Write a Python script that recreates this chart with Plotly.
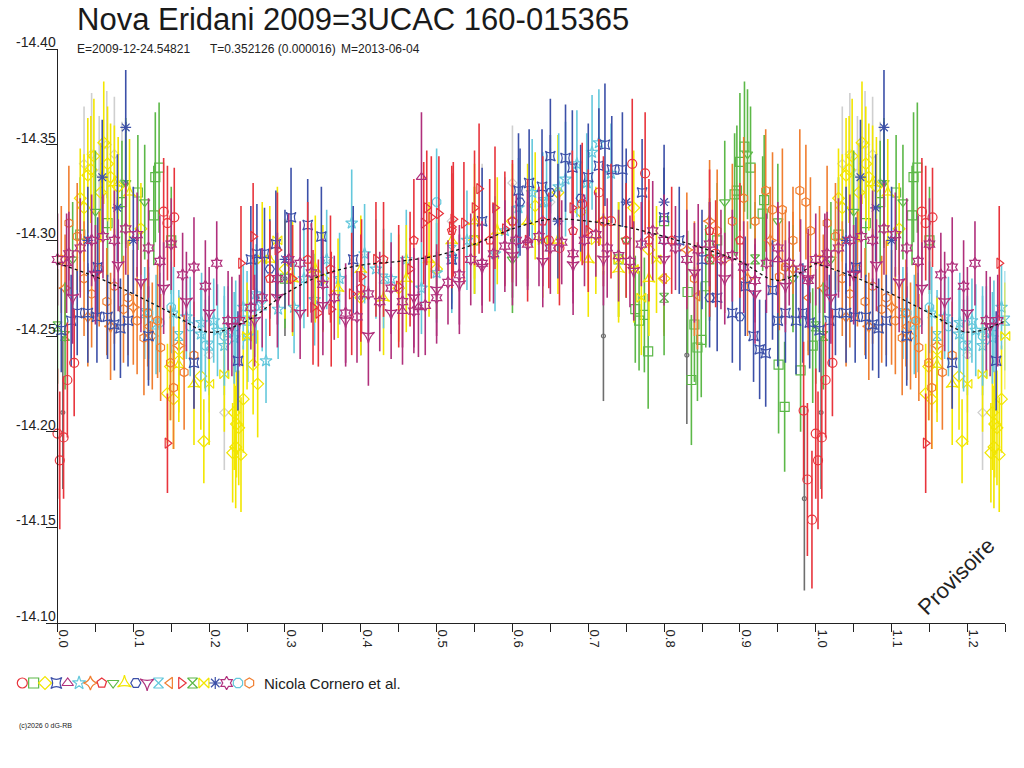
import plotly.graph_objects as go

W, H = 1024, 768
FONT = "Liberation Sans, Arial, sans-serif"

# ---------------- data (phase, magnitude, error) ----------------
s01_phase = [0.000, 0.003, 0.008, 0.013, 0.022, 0.140, 0.145, 0.154, 0.648, 0.662,
             0.692, 0.714, 0.730, 0.758, 0.775, 0.860, 0.868, 0.984, 0.989, 0.995]
s01_mag = [-14.199, -14.185, -14.197, -14.227, -14.236, -14.315, -14.309, -14.312, -14.300, -14.296,
           -14.319, -14.325, -14.310, -14.340, -14.335, -14.290, -14.293, -14.211, -14.175, -14.154]
s01_err = [0.034, 0.036, 0.032, 0.030, 0.028, 0.028, 0.030, 0.026, 0.025, 0.030,
           0.032, 0.028, 0.030, 0.034, 0.032, 0.030, 0.028, 0.036, 0.040, 0.036]

s02_phase = [0.030, 0.066, 0.085, 0.106, 0.127, 0.129, 0.134, 0.150, 0.300, 0.550,
             0.740, 0.762, 0.767, 0.774, 0.779, 0.800, 0.831, 0.836, 0.840, 0.844,
             0.849, 0.855, 0.870, 0.893, 0.896, 0.900, 0.906, 0.914, 0.930, 0.932,
             0.951, 0.959, 0.980, 0.996]
s02_mag = [-14.303, -14.309, -14.320, -14.325, -14.313, -14.333, -14.338, -14.300, -14.280, -14.300,
           -14.290, -14.264, -14.258, -14.261, -14.242, -14.310, -14.273, -14.227, -14.256, -14.244,
           -14.248, -14.276, -14.300, -14.324, -14.326, -14.341, -14.349, -14.338, -14.314, -14.321,
           -14.235, -14.213, -14.232, -14.245]
s02_err = [0.030, 0.028, 0.032, 0.030, 0.026, 0.034, 0.034, 0.028, 0.026, 0.028,
           0.030, 0.028, 0.026, 0.030, 0.030, 0.028, 0.032, 0.034, 0.030, 0.028,
           0.030, 0.032, 0.030, 0.032, 0.034, 0.036, 0.034, 0.032, 0.030, 0.034,
           0.036, 0.034, 0.032, 0.030]

s03_phase = [0.030, 0.035, 0.040, 0.044, 0.048, 0.057, 0.061, 0.066, 0.070, 0.080,
             0.110, 0.145, 0.149, 0.153, 0.189, 0.193, 0.231, 0.233, 0.235, 0.236,
             0.239, 0.242, 0.245, 0.258, 0.264, 0.300, 0.350, 0.400, 0.450, 0.500,
             0.550, 0.600, 0.630, 0.660, 0.690, 0.720, 0.760, 0.780, 0.800]
s03_mag = [-14.322, -14.317, -14.334, -14.337, -14.344, -14.325, -14.351, -14.340, -14.333, -14.328,
           -14.306, -14.220, -14.234, -14.217, -14.229, -14.195, -14.189, -14.210, -14.192, -14.204,
           -14.202, -14.188, -14.217, -14.235, -14.225, -14.285, -14.280, -14.270, -14.275, -14.285,
           -14.300, -14.310, -14.318, -14.325, -14.315, -14.310, -14.317, -14.295, -14.280]
s03_err = [0.026, 0.028, 0.030, 0.028, 0.030, 0.026, 0.032, 0.030, 0.028, 0.026,
           0.024, 0.026, 0.028, 0.026, 0.028, 0.022, 0.026, 0.030, 0.032, 0.028,
           0.030, 0.030, 0.028, 0.026, 0.028, 0.026, 0.028, 0.030, 0.028, 0.026,
           0.028, 0.030, 0.028, 0.030, 0.026, 0.028, 0.030, 0.026, 0.028]

s04_phase = [0.005, 0.018, 0.026, 0.040, 0.052, 0.053, 0.066, 0.075, 0.083, 0.093,
             0.120, 0.180, 0.238, 0.255, 0.263, 0.273, 0.288, 0.308, 0.330, 0.348,
             0.390, 0.520, 0.560, 0.608, 0.622, 0.639, 0.650, 0.670, 0.679, 0.700,
             0.714, 0.722, 0.731, 0.745, 0.771, 0.800, 0.820, 0.850, 0.870, 0.890,
             0.907, 0.918, 0.926, 0.934, 0.943, 0.950, 0.960, 0.974, 0.983, 0.992]
s04_mag = [-14.253, -14.258, -14.262, -14.262, -14.260, -14.286, -14.260, -14.256, -14.254, -14.258,
           -14.250, -14.236, -14.237, -14.290, -14.293, -14.293, -14.298, -14.312, -14.308, -14.302,
           -14.290, -14.290, -14.310, -14.326, -14.330, -14.328, -14.344, -14.343, -14.338, -14.333,
           -14.339, -14.350, -14.337, -14.337, -14.325, -14.312, -14.300, -14.290, -14.270, -14.262,
           -14.276, -14.250, -14.243, -14.241, -14.274, -14.258, -14.262, -14.258, -14.262, -14.257]
s04_err = [0.022, 0.024, 0.022, 0.026, 0.024, 0.026, 0.022, 0.024, 0.026, 0.024,
           0.026, 0.024, 0.026, 0.028, 0.026, 0.024, 0.028, 0.026, 0.024, 0.026,
           0.028, 0.026, 0.028, 0.030, 0.028, 0.030, 0.030, 0.028, 0.030, 0.028,
           0.030, 0.032, 0.028, 0.030, 0.028, 0.026, 0.028, 0.026, 0.028, 0.026,
           0.026, 0.024, 0.026, 0.028, 0.026, 0.024, 0.026, 0.028, 0.026, 0.024]

s05_phase = [0.012, 0.455, 0.476, 0.480, 0.620, 0.950]
s05_mag = [-14.288, -14.263, -14.265, -14.333, -14.300, -14.290]
s05_err = [0.026, 0.028, 0.026, 0.034, 0.026, 0.028]

s06_phase = [0.153, 0.170, 0.189, 0.190, 0.206, 0.211, 0.220, 0.233, 0.245, 0.251,
             0.262, 0.275, 0.291, 0.312, 0.325, 0.339, 0.355, 0.372, 0.388, 0.405,
             0.420, 0.440, 0.460, 0.480, 0.500, 0.520, 0.540, 0.577, 0.590, 0.608,
             0.626, 0.645, 0.661, 0.670, 0.685, 0.698, 0.705, 0.714, 0.730]
s06_mag = [-14.262, -14.260, -14.251, -14.257, -14.258, -14.253, -14.245, -14.249, -14.265, -14.250,
           -14.272, -14.237, -14.264, -14.265, -14.280, -14.269, -14.290, -14.280, -14.309, -14.293,
           -14.285, -14.280, -14.290, -14.275, -14.283, -14.290, -14.300, -14.293, -14.305, -14.317,
           -14.325, -14.320, -14.328, -14.332, -14.340, -14.330, -14.346, -14.351, -14.335]
s06_err = [0.024, 0.022, 0.024, 0.026, 0.022, 0.024, 0.026, 0.024, 0.022, 0.024,
           0.026, 0.022, 0.026, 0.024, 0.026, 0.024, 0.026, 0.024, 0.028, 0.026,
           0.026, 0.024, 0.026, 0.024, 0.026, 0.028, 0.026, 0.030, 0.028, 0.026,
           0.028, 0.026, 0.028, 0.030, 0.028, 0.026, 0.030, 0.028, 0.026]

s07_phase = [0.010, 0.040, 0.070, 0.100, 0.125, 0.160, 0.830, 0.860, 0.880, 0.910, 0.940, 0.970]
s07_mag = [-14.275, -14.260, -14.255, -14.265, -14.250, -14.245, -14.295, -14.310, -14.290, -14.280, -14.300, -14.285]
s07_err = [0.028, 0.026, 0.028, 0.030, 0.028, 0.026, 0.030, 0.032, 0.028, 0.030, 0.028, 0.030]

s08_phase = [0.280, 0.330, 0.360, 0.400, 0.430, 0.470, 0.520, 0.570, 0.600, 0.640,
             0.680, 0.720, 0.750, 0.780, 0.810, 0.860, 0.900]
s08_mag = [-14.280, -14.290, -14.285, -14.275, -14.290, -14.300, -14.305, -14.300, -14.310, -14.310,
           -14.305, -14.310, -14.300, -14.300, -14.300, -14.305, -14.300]
s08_err = [0.030, 0.030, 0.028, 0.028, 0.030, 0.032, 0.030, 0.032, 0.032, 0.034,
           0.032, 0.034, 0.030, 0.032, 0.028, 0.032, 0.030]

s09_phase = [0.020, 0.050, 0.090, 0.115, 0.600, 0.750, 0.880, 0.910, 0.950, 0.970]
s09_mag = [-14.290, -14.315, -14.330, -14.320, -14.290, -14.300, -14.320, -14.345, -14.310, -14.280]
s09_err = [0.030, 0.032, 0.034, 0.030, 0.028, 0.030, 0.032, 0.034, 0.030, 0.028]

s10_phase = [0.075, 0.095, 0.160, 0.180, 0.280, 0.310, 0.340, 0.370, 0.400, 0.430,
             0.460, 0.490, 0.520, 0.550, 0.580, 0.620, 0.660, 0.700, 0.740, 0.780]
s10_mag = [-14.330, -14.325, -14.235, -14.225, -14.290, -14.280, -14.285, -14.275, -14.285, -14.270,
           -14.280, -14.290, -14.300, -14.310, -14.305, -14.310, -14.300, -14.290, -14.285, -14.280]
s10_err = [0.030, 0.028, 0.030, 0.032, 0.028, 0.030, 0.028, 0.026, 0.028, 0.030,
           0.028, 0.030, 0.028, 0.030, 0.028, 0.030, 0.028, 0.030, 0.028, 0.030]

s11_phase = [0.280, 0.610, 0.650, 0.690, 0.860, 0.900]
s11_mag = [-14.285, -14.320, -14.325, -14.322, -14.270, -14.260]
s11_err = [0.026, 0.028, 0.030, 0.028, 0.026, 0.028]

s12_phase = [0.020, 0.050, 0.080, 0.110, 0.140, 0.170, 0.200, 0.230, 0.260, 0.290,
             0.320, 0.350, 0.380, 0.410, 0.440, 0.470, 0.500, 0.530, 0.560, 0.600,
             0.640, 0.680, 0.720, 0.760, 0.800, 0.840, 0.880, 0.920, 0.960, 0.990]
s12_mag = [-14.270, -14.282, -14.287, -14.278, -14.275, -14.268, -14.262, -14.255, -14.258, -14.270,
           -14.262, -14.266, -14.258, -14.250, -14.262, -14.270, -14.274, -14.277, -14.286, -14.292,
           -14.289, -14.287, -14.290, -14.284, -14.290, -14.283, -14.280, -14.272, -14.276, -14.280]
s12_err = [0.024, 0.026, 0.024, 0.026, 0.024, 0.026, 0.024, 0.026, 0.024, 0.026,
           0.024, 0.026, 0.024, 0.026, 0.024, 0.026, 0.024, 0.026, 0.024, 0.026,
           0.024, 0.026, 0.024, 0.026, 0.024, 0.026, 0.024, 0.026, 0.024, 0.026]

s13_phase = [0.115, 0.130, 0.160, 0.200, 0.225, 0.250, 0.270, 0.430, 0.520, 0.640]
s13_mag = [-14.262, -14.256, -14.250, -14.245, -14.252, -14.258, -14.266, -14.280, -14.295, -14.320]
s13_err = [0.024, 0.026, 0.024, 0.026, 0.024, 0.026, 0.024, 0.026, 0.028, 0.026]

s14_phase = [0.120, 0.800, 0.844, 0.990]
s14_mag = [-14.255, -14.280, -14.271, -14.270]
s14_err = [0.028, 0.030, 0.028, 0.030]

s15_phase = [0.145, 0.242, 0.258, 0.290, 0.310, 0.337, 0.344, 0.361, 0.388, 0.401,
             0.420, 0.450, 0.465, 0.483, 0.487, 0.493, 0.503, 0.520, 0.522, 0.536,
             0.550, 0.556, 0.577, 0.590, 0.620, 0.679, 0.700]
s15_mag = [-14.194, -14.288, -14.302, -14.295, -14.280, -14.265, -14.262, -14.264, -14.272, -14.281,
           -14.290, -14.276, -14.285, -14.309, -14.317, -14.312, -14.314, -14.307, -14.311, -14.309,
           -14.317, -14.327, -14.317, -14.306, -14.300, -14.317, -14.305]
s15_err = [0.026, 0.030, 0.028, 0.030, 0.028, 0.030, 0.028, 0.030, 0.032, 0.030,
           0.030, 0.032, 0.030, 0.032, 0.030, 0.032, 0.030, 0.032, 0.030, 0.032,
           0.030, 0.034, 0.032, 0.030, 0.032, 0.030, 0.032]

s16_phase = [0.000, 0.010, 0.800, 0.860, 0.920]
s16_mag = [-14.255, -14.250, -14.270, -14.290, -14.290]
s16_err = [0.030, 0.028, 0.030, 0.032, 0.030]

s17_phase = [0.160, 0.200, 0.220, 0.250, 0.270, 0.290, 0.640, 0.710, 0.740, 0.760, 0.770, 0.790]
s17_mag = [-14.240, -14.225, -14.230, -14.250, -14.290, -14.300, -14.300, -14.300, -14.290, -14.285, -14.270, -14.290]
s17_err = [0.030, 0.032, 0.030, 0.028, 0.030, 0.028, 0.030, 0.028, 0.030, 0.028, 0.030, 0.028]

s18_phase = [0.040, 0.059, 0.079, 0.090, 0.100, 0.300, 0.660, 0.750, 0.800]
s18_mag = [-14.300, -14.333, -14.317, -14.359, -14.300, -14.290, -14.310, -14.320, -14.320]
s18_err = [0.028, 0.030, 0.028, 0.030, 0.028, 0.026, 0.030, 0.028, 0.030]

s19_phase = [0.000, 0.015, 0.030, 0.045, 0.060, 0.075, 0.090, 0.105, 0.120, 0.135,
             0.150, 0.165, 0.180, 0.195, 0.210, 0.225, 0.240, 0.255, 0.270, 0.290,
             0.305, 0.320, 0.335, 0.350, 0.365, 0.380, 0.395, 0.410, 0.425, 0.440,
             0.455, 0.470, 0.485, 0.500, 0.515, 0.530, 0.545, 0.560, 0.575, 0.590,
             0.605, 0.620, 0.635, 0.650, 0.665, 0.680, 0.695, 0.710, 0.725, 0.740,
             0.755, 0.770, 0.785, 0.800, 0.815, 0.830, 0.845, 0.860, 0.875, 0.890,
             0.905, 0.920, 0.935, 0.950, 0.965, 0.980, 0.990]
s19_mag = [-14.290, -14.293, -14.296, -14.300, -14.302, -14.300, -14.306, -14.303, -14.296, -14.289,
           -14.298, -14.282, -14.286, -14.276, -14.288, -14.258, -14.258, -14.265, -14.270, -14.280,
           -14.290, -14.288, -14.283, -14.277, -14.270, -14.262, -14.260, -14.272, -14.268, -14.275,
           -14.268, -14.263, -14.266, -14.270, -14.278, -14.282, -14.290, -14.288, -14.293, -14.297,
           -14.300, -14.298, -14.302, -14.296, -14.299, -14.293, -14.300, -14.303, -14.296, -14.292,
           -14.289, -14.298, -14.305, -14.300, -14.296, -14.290, -14.295, -14.298, -14.290, -14.292,
           -14.286, -14.279, -14.288, -14.296, -14.288, -14.285, -14.279]
s19_err = [0.024, 0.022, 0.026, 0.024, 0.022, 0.026, 0.024, 0.022, 0.026, 0.024,
           0.024, 0.022, 0.026, 0.024, 0.022, 0.026, 0.024, 0.022, 0.026, 0.024,
           0.024, 0.022, 0.026, 0.024, 0.022, 0.026, 0.024, 0.022, 0.026, 0.024,
           0.024, 0.022, 0.026, 0.024, 0.022, 0.026, 0.024, 0.022, 0.026, 0.024,
           0.024, 0.022, 0.026, 0.024, 0.022, 0.026, 0.024, 0.022, 0.026, 0.024,
           0.024, 0.022, 0.026, 0.024, 0.022, 0.026, 0.024, 0.022, 0.026, 0.024,
           0.024, 0.022, 0.026, 0.024, 0.022, 0.026, 0.024]

s20_phase = [0.120, 0.135, 0.150, 0.175, 0.195, 0.220, 0.235, 0.260, 0.500, 0.800]
s20_mag = [-14.262, -14.257, -14.265, -14.255, -14.245, -14.250, -14.255, -14.265, -14.320, -14.300]
s20_err = [0.024, 0.026, 0.024, 0.026, 0.024, 0.026, 0.024, 0.026, 0.028, 0.026]

s21_phase = [0.005, 0.015, 0.026, 0.035, 0.045, 0.055, 0.065, 0.075, 0.087, 0.093,
             0.105, 0.114, 0.119, 0.132, 0.136, 0.149, 0.153, 0.167, 0.180, 0.840,
             0.870, 0.890, 0.905, 0.920, 0.934, 0.943, 0.952, 0.956, 0.960, 0.970,
             0.979, 0.987, 0.993]
s21_mag = [-14.290, -14.309, -14.302, -14.280, -14.272, -14.285, -14.268, -14.276, -14.264, -14.270,
           -14.258, -14.249, -14.262, -14.258, -14.244, -14.236, -14.223, -14.231, -14.240, -14.280,
           -14.305, -14.310, -14.322, -14.310, -14.326, -14.316, -14.281, -14.316, -14.286, -14.300,
           -14.326, -14.320, -14.305]
s21_err = [0.028, 0.030, 0.028, 0.030, 0.028, 0.030, 0.028, 0.030, 0.028, 0.030,
           0.028, 0.030, 0.028, 0.030, 0.028, 0.030, 0.032, 0.030, 0.028, 0.030,
           0.032, 0.030, 0.032, 0.030, 0.032, 0.030, 0.028, 0.032, 0.030, 0.028,
           0.032, 0.030, 0.028]

grey_light_phase = [0.035, 0.045, 0.055, 0.065, 0.075, 0.085, 0.200, 0.220, 0.520, 0.560, 0.600, 0.650]
grey_light_mag = [-14.340, -14.345, -14.335, -14.350, -14.345, -14.330, -14.240, -14.210, -14.310, -14.310, -14.330, -14.320]
grey_light_err = [0.030, 0.032, 0.030, 0.028, 0.030, 0.032, 0.030, 0.030, 0.028, 0.030, 0.030, 0.028]

grey_dark_phase = [0.007, 0.090, 0.300, 0.400, 0.600, 0.720, 0.830, 0.985]
grey_dark_mag = [-14.210, -14.330, -14.280, -14.270, -14.300, -14.250, -14.240, -14.165]
grey_dark_err = [0.040, 0.032, 0.030, 0.030, 0.030, 0.034, 0.036, 0.048]

fit_phase = [0.00, 0.05, 0.10, 0.15, 0.20, 0.25, 0.30, 0.35, 0.40, 0.45, 0.50, 0.55, 0.60,
             0.65, 0.70, 0.75, 0.80, 0.85, 0.90, 0.95, 1.00]
fit_mag = [-14.288, -14.281, -14.272, -14.262, -14.252, -14.258, -14.272, -14.282, -14.287, -14.289,
           -14.292, -14.298, -14.306, -14.311, -14.310, -14.307, -14.302, -14.296, -14.289, -14.279, -14.288]

series_names = ["Obs %d" % i for i in range(1, 22)]
series_colors = ["#e8343c", "#5cb848", "#f2e600", "#3c50a8", "#b0307c", "#64c8dc", "#f07e30"] * 3
series_symbols = ["circle-open", "square-open", "diamond-open", "star-square-open", "triangle-up-open",
                  "star-open", "star-diamond-open", "pentagon-open", "triangle-down-open",
                  "star-triangle-up-open", "hexagon2-open", "star-triangle-down-open", "hourglass-open",
                  "triangle-left-open", "triangle-right-open", "hourglass-open", "bowtie-open",
                  "asterisk-open", "hexagram-open", "octagon-open", "hexagon-open"]
series_data = [
    (s01_phase, s01_mag, s01_err), (s02_phase, s02_mag, s02_err), (s03_phase, s03_mag, s03_err),
    (s04_phase, s04_mag, s04_err), (s05_phase, s05_mag, s05_err), (s06_phase, s06_mag, s06_err),
    (s07_phase, s07_mag, s07_err), (s08_phase, s08_mag, s08_err), (s09_phase, s09_mag, s09_err),
    (s10_phase, s10_mag, s10_err), (s11_phase, s11_mag, s11_err), (s12_phase, s12_mag, s12_err),
    (s13_phase, s13_mag, s13_err), (s14_phase, s14_mag, s14_err), (s15_phase, s15_mag, s15_err),
    (s16_phase, s16_mag, s16_err), (s17_phase, s17_mag, s17_err), (s18_phase, s18_mag, s18_err),
    (s19_phase, s19_mag, s19_err), (s20_phase, s20_mag, s20_err), (s21_phase, s21_mag, s21_err),
]

y_ticks = [-14.40, -14.35, -14.30, -14.25, -14.20, -14.15, -14.10]
x_ticks = [0.0, 0.1, 0.2, 0.3, 0.4, 0.5, 0.6, 0.7, 0.8, 0.9, 1.0, 1.1, 1.2]
PHASE_MAX = 1.25


def fold(ph, mg, er):
    """Repeat the start of the cycle after phase 1 (as in the phase diagram)."""
    xs, ys, es = list(ph), list(mg), list(er)
    for p, m, e in zip(ph, mg, er):
        if p + 1 <= PHASE_MAX:
            xs.append(p + 1)
            ys.append(m)
            es.append(e)
    return xs, ys, es


fig = go.Figure()


def add_series(ph, mg, er, color, symbol, name, size=9):
    xs, ys, es = fold(ph, mg, er)
    fig.add_trace(go.Scatter(
        x=xs, y=ys, mode="markers", name=name, showlegend=False, cliponaxis=False,
        marker=dict(symbol=symbol, size=size, color=color, line=dict(color=color, width=1.2)),
        error_y=dict(type="data", array=es, visible=True, color=color, thickness=1.6, width=0),
    ))


add_series(grey_light_phase, grey_light_mag, grey_light_err, "#cfcfcf", "diamond-open", "grey", 7)
add_series(grey_dark_phase, grey_dark_mag, grey_dark_err, "#6e6e6e", "circle-open", "dark grey", 4)

draw_order = [1, 2, 5, 6, 8, 9, 12, 13, 15, 16, 19, 20, 3, 10, 17, 0, 7, 14, 4, 11, 18]
for i in draw_order:
    ph, mg, er = series_data[i]
    add_series(ph, mg, er, series_colors[i], series_symbols[i], series_names[i])

fx, fy, _ = fold(fit_phase[:-1], fit_mag[:-1], [0] * (len(fit_phase) - 1))
fx.append(fit_phase[-1]); fy.append(fit_mag[-1])
order = sorted(range(len(fx)), key=lambda k: fx[k])
fig.add_trace(go.Scatter(
    x=[fx[k] for k in order], y=[fy[k] for k in order], mode="lines", showlegend=False,
    line=dict(color="#111111", width=1.3, dash="dot", shape="spline"),
))

# legend row of symbols (own hidden axes)
fig.add_trace(go.Scatter(
    x=list(range(len(series_symbols))), y=[0] * len(series_symbols), mode="markers",
    xaxis="x2", yaxis="y2", showlegend=False, cliponaxis=False,
    marker=dict(symbol=series_symbols, size=10, color=series_colors,
                line=dict(color=series_colors, width=1.2)),
))

x0_px, x1_px, ytop_px, ybot_px = 57.5, 1005.3, 49, 623
fig.update_layout(
    width=W, height=H, template="none",
    margin=dict(l=0, r=0, t=0, b=0, autoexpand=False),
    paper_bgcolor="white", plot_bgcolor="white",
    font=dict(family=FONT, color="#222222"),
    xaxis=dict(
        domain=[x0_px / W, x1_px / W], range=[0, PHASE_MAX], anchor="y",
        tickvals=x_ticks, ticktext=["%.1f" % v for v in x_ticks],
        ticks="outside", ticklen=8, tickwidth=1, tickcolor="#222222",
        minor=dict(dtick=0.05, tick0=0, ticks="outside", ticklen=8, tickwidth=1, tickcolor="#222222"),
        tickangle=90, tickfont=dict(family=FONT, size=13, color="#222222"),
        ticklabelshift=6, ticklabelstandoff=-5,
        showline=True, linecolor="#222222", linewidth=1, mirror=False,
        showgrid=False, zeroline=False, automargin=False,
    ),
    yaxis=dict(
        domain=[1 - ybot_px / H, 1 - ytop_px / H], range=[y_ticks[-1], y_ticks[0]], anchor="x",
        tickvals=y_ticks, ticktext=["%.2f" % v for v in y_ticks],
        ticks="outside", ticklen=11, tickwidth=1, tickcolor="#222222",
        tickfont=dict(family=FONT, size=14, color="#222222"),
        ticklabelshift=7, ticklabelstandoff=-13,
        showline=True, linecolor="#222222", linewidth=1,
        showgrid=False, zeroline=False, automargin=False,
    ),
    xaxis2=dict(domain=[0, 0.3], range=[-1.965, 25.1], anchor="y2", visible=False),
    yaxis2=dict(domain=[1 - 700 / H, 1 - 666 / H], range=[-1, 1], anchor="x2", visible=False),
    annotations=[
        dict(text="Nova Eridani 2009=3UCAC 160-015365", x=75 / W, y=1 - 19 / H, xref="paper", yref="paper",
             xanchor="left", yanchor="middle", showarrow=False, font=dict(family=FONT, size=31, color="#1a1a1a")),
        dict(text="E=2009-12-24.54821", x=75 / W, y=1 - 49 / H, xref="paper", yref="paper",
             xanchor="left", yanchor="middle", showarrow=False, font=dict(family=FONT, size=12, color="#222222")),
        dict(text="T=0.352126 (0.000016)", x=208 / W, y=1 - 49 / H, xref="paper", yref="paper",
             xanchor="left", yanchor="middle", showarrow=False, font=dict(family=FONT, size=12, color="#222222")),
        dict(text="M=2013-06-04", x=339 / W, y=1 - 49 / H, xref="paper", yref="paper",
             xanchor="left", yanchor="middle", showarrow=False, font=dict(family=FONT, size=12, color="#222222")),
        dict(text="Provisoire", x=956 / W, y=1 - 576 / H, xref="paper", yref="paper",
             xanchor="center", yanchor="middle", textangle=-45, showarrow=False,
             font=dict(family=FONT, size=22, color="#222222")),
        dict(text="Nicola Cornero et al.", x=262 / W, y=1 - 683 / H, xref="paper", yref="paper",
             xanchor="left", yanchor="middle", showarrow=False, font=dict(family=FONT, size=15, color="#222222")),
        dict(text="(c)2026 0 dG-RB", x=17 / W, y=1 - 726 / H, xref="paper", yref="paper",
             xanchor="left", yanchor="middle", showarrow=False, font=dict(family=FONT, size=7, color="#222222")),
    ],
)

fig.write_html("out.html", config={"displayModeBar": False})

# remove the browser's default page margin so the figure sits at the window's top-left corner
with open("out.html", encoding="utf-8") as fh:
    page = fh.read()
page = page.replace("<head>", "<head><style>html,body{margin:0;padding:0;}</style>", 1)
with open("out.html", "w", encoding="utf-8") as fh:
    fh.write(page)
